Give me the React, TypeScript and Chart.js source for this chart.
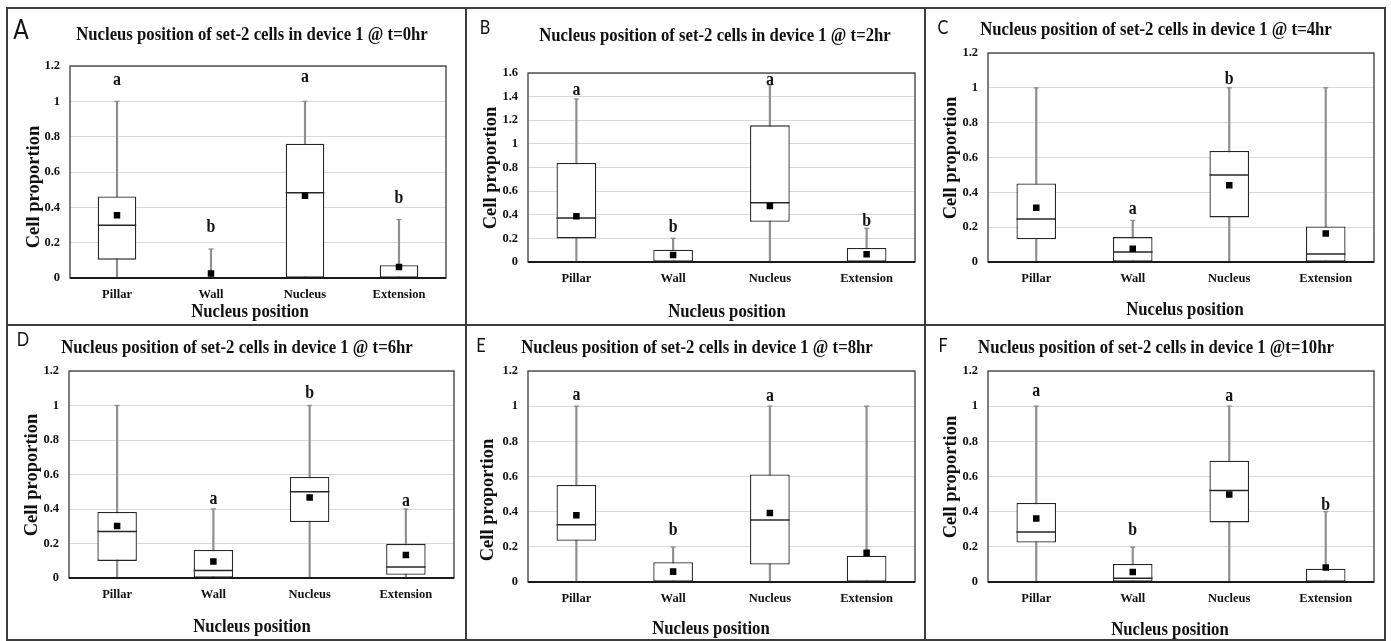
import React, { useEffect, useRef } from "react";
import { Chart, registerables } from "chart.js";

Chart.register(...registerables);

// ---------------- data ----------------
const categories = ["Pillar", "Wall", "Nucleus", "Extension"];
const panelLetters = ["A", "B", "C", "D", "E", "F"];
const panelTitles = [
  "Nucleus position of set-2 cells in device 1 @ t=0hr",
  "Nucleus position of set-2 cells in device 1 @ t=2hr",
  "Nucleus position of set-2 cells in device 1 @ t=4hr",
  "Nucleus position of set-2 cells in device 1 @ t=6hr",
  "Nucleus position of set-2 cells in device 1 @ t=8hr",
  "Nucleus position of set-2 cells in device 1 @t=10hr",
];
const xAxisTitles = [
  "Nucleus position",
  "Nucleus position",
  "Nucelus position",
  "Nucleus position",
  "Nucleus position",
  "Nucleus position",
];
const yAxisTitle = "Cell proportion";
const yMaxValues = [1.2, 1.6, 1.2, 1.2, 1.2, 1.2];
const yStep = 0.2;

const minValues = [
  [0, 0, 0, 0],
  [0, 0, 0, 0],
  [0, 0, 0, 0],
  [0, 0, 0, 0],
  [0, 0, 0, 0],
  [0, 0, 0, 0],
];
const q1Values = [
  [0.104, 0, 0, 0],
  [0.2, 0, 0.341, 0],
  [0.13, 0, 0.256, 0],
  [0.099, 0, 0.325, 0.019],
  [0.234, 0, 0.099, 0],
  [0.224, 0, 0.339, 0],
];
const medianValues = [
  [0.299, 0, 0.482, 0],
  [0.372, 0, 0.502, 0],
  [0.247, 0.057, 0.499, 0.046],
  [0.27, 0.044, 0.5, 0.064],
  [0.325, 0, 0.352, 0],
  [0.285, 0.021, 0.521, 0],
];
const q3Values = [
  [0.461, 0, 0.76, 0.072],
  [0.838, 0.104, 1.157, 0.118],
  [0.451, 0.143, 0.638, 0.204],
  [0.383, 0.162, 0.586, 0.198],
  [0.552, 0.112, 0.612, 0.15],
  [0.449, 0.103, 0.69, 0.076],
];
const maxValues = [
  [1.0, 0.164, 1.0, 0.331],
  [1.38, 0.2, 1.5, 0.285],
  [1.0, 0.239, 1.0, 1.0],
  [1.0, 0.4, 1.0, 0.4],
  [1.0, 0.198, 1.0, 1.0],
  [1.0, 0.198, 1.0, 0.4],
];
const meanValues = [
  [0.355, 0.026, 0.465, 0.062],
  [0.387, 0.059, 0.474, 0.065],
  [0.311, 0.076, 0.44, 0.163],
  [0.302, 0.095, 0.466, 0.133],
  [0.38, 0.059, 0.392, 0.167],
  [0.361, 0.057, 0.498, 0.082],
];
const sigLetters = [
  ["a", "b", "a", "b"],
  ["a", "b", "a", "b"],
  ["", "a", "b", ""],
  ["", "a", "b", "a"],
  ["a", "b", "a", ""],
  ["a", "b", "a", "b"],
];
const sigLetterY = [
  [1.119, 0.289, 1.138, 0.45],
  [1.456, 0.293, 1.535, 0.347],
  [0, 0.304, 1.051, 0],
  [0, 0.458, 1.071, 0.446],
  [1.063, 0.291, 1.054, 0],
  [1.086, 0.291, 1.054, 0.437],
];

// ---------------- layout ----------------
const colX = [7, 466, 925, 1385];
const rowY = [8, 325, 640];
const plotAreas = [
  { l: 70, r: 446, t: 66, b: 278 },
  { l: 528, r: 915, t: 73, b: 262 },
  { l: 988, r: 1374, t: 53, b: 262 },
  { l: 69, r: 454, t: 371, b: 578 },
  { l: 528, r: 915, t: 371, b: 582 },
  { l: 988, r: 1374, t: 371, b: 582 },
];
const titlePos = [
  [252, 33],
  [715, 33.7],
  [1156, 28.3],
  [237, 346],
  [696.5, 346.3],
  [1156, 346.3],
];
const xTitlePos = [
  [250, 310],
  [727, 310.3],
  [1185, 308.3],
  [252, 624.5],
  [710.5, 627.2],
  [1170, 627.8],
];
const yTitlePos = [
  [33, 187],
  [490, 168],
  [950, 158],
  [31, 475],
  [486.5, 499.5],
  [950, 476.7],
];
const letterPos = [
  [21, 28.5],
  [484.5, 27],
  [943, 27.3],
  [23, 339.3],
  [480.7, 345],
  [942.5, 345],
];
const letterSizes = [26, 18.5, 18.5, 18.5, 18.5, 18.5];

const SERIF = '"Liberation Serif", "Times New Roman", serif';
const WHISKER = "#8e8e8e";
const BOXLINE = "#262626";

function makePlugin(i: number) {
  return {
    id: "boxExtras" + i,
    afterDatasetDraw(chart: any, args: any) {
      const ctx = chart.ctx;
      const ys = chart.scales.y;
      if (args.index === 0) {
        const meta = chart.getDatasetMeta(0);
        ctx.save();
        ctx.strokeStyle = WHISKER;
        ctx.lineWidth = 1.3;
        meta.data.forEach((el: any, k: number) => {
          const py = ys.getPixelForValue(maxValues[i][k]);
          ctx.beginPath();
          ctx.moveTo(el.x - 2.5, py);
          ctx.lineTo(el.x + 2.5, py);
          ctx.stroke();
        });
        ctx.restore();
      }
      if (args.index === 1) {
        const meta = chart.getDatasetMeta(1);
        ctx.save();
        ctx.strokeStyle = BOXLINE;
        ctx.lineWidth = 1.5;
        meta.data.forEach((el: any, k: number) => {
          const py = ys.getPixelForValue(medianValues[i][k]);
          const half = el.width / 2;
          ctx.beginPath();
          ctx.moveTo(el.x - half, py);
          ctx.lineTo(el.x + half, py);
          ctx.stroke();
        });
        ctx.restore();
      }
    },
    afterDatasetsDraw(chart: any) {
      const ctx = chart.ctx;
      const { left, top, right, bottom } = chart.chartArea;
      ctx.save();
      ctx.strokeStyle = "#3a3a3a";
      ctx.lineWidth = 1.3;
      ctx.strokeRect(left, top, right - left, bottom - top);
      ctx.strokeStyle = "#1a1a1a";
      ctx.lineWidth = 1.8;
      ctx.beginPath();
      ctx.moveTo(left, bottom);
      ctx.lineTo(right, bottom);
      ctx.stroke();
      // significance letters
      const xs = chart.scales.x;
      const ys = chart.scales.y;
      ctx.fillStyle = "#111";
      ctx.font = `bold 18px ${SERIF}`;
      ctx.textAlign = "center";
      ctx.textBaseline = "middle";
      sigLetters[i].forEach((t, k) => {
        if (!t) return;
        const px = xs.getPixelForValue(k);
        const py = ys.getPixelForValue(sigLetterY[i][k]);
        ctx.save();
        ctx.translate(px, py);
        ctx.scale(0.88, 1);
        ctx.fillText(t, 0, 0);
        ctx.restore();
      });
      ctx.restore();
    },
  };
}

function Panel({ i }: { i: number }) {
  const ref = useRef<HTMLCanvasElement>(null);
  const col = i % 3;
  const row = Math.floor(i / 3);
  const cx0 = colX[col] + 1;
  const cy0 = rowY[row] + 1;
  const w = colX[col + 1] - colX[col] - 2;
  const h = rowY[row + 1] - rowY[row] - 2;

  useEffect(() => {
    const pa = plotAreas[i];
    const tickFont = { family: SERIF, weight: "bold" as const, size: 12.5 };
    const chart = new Chart(ref.current as HTMLCanvasElement, {
      type: "bar",
      data: {
        labels: categories,
        datasets: [
          {
            type: "bar",
            label: "whisker",
            data: categories.map((_, k) => [minValues[i][k], maxValues[i][k]]) as any,
            backgroundColor: WHISKER,
            borderWidth: 0,
            barThickness: 1.5,
            grouped: false,
            order: 3,
          } as any,
          {
            type: "bar",
            label: "box",
            data: categories.map((_, k) => [q1Values[i][k], q3Values[i][k]]) as any,
            backgroundColor: "#ffffff",
            borderColor: BOXLINE,
            borderWidth: 1.3,
            borderSkipped: false,
            grouped: false,
            barPercentage: 0.41,
            categoryPercentage: 1,
            order: 2,
          } as any,
          {
            type: "line",
            label: "mean",
            data: meanValues[i],
            showLine: false,
            pointStyle: "rect",
            pointRadius: 4.6,
            pointHoverRadius: 4.6,
            pointBackgroundColor: "#000",
            pointBorderWidth: 0,
            order: 1,
          } as any,
        ],
      },
      options: {
        responsive: false,
        animation: false,
        events: [],
        layout: {
          padding: { left: 0, top: pa.t - cy0, right: cx0 + w - pa.r, bottom: 0 },
        },
        plugins: {
          legend: { display: false },
          title: { display: false },
          tooltip: { enabled: false },
        },
        scales: {
          x: {
            type: "category",
            grid: { display: false, drawTicks: false },
            border: { display: false },
            ticks: {
              padding: 9,
              color: "#111",
              font: tickFont,
              maxRotation: 0,
              autoSkip: false,
            },
            afterFit: (s: any) => {
              s.height = cy0 + h - pa.b;
            },
          },
          y: {
            min: 0,
            max: yMaxValues[i],
            grid: { color: "#d9d9d9", lineWidth: 1, drawTicks: false },
            border: { display: false },
            ticks: {
              stepSize: yStep,
              padding: 10,
              color: "#111",
              font: tickFont,
              callback: (v: any) => String(Math.round(Number(v) * 10) / 10),
            },
            afterFit: (s: any) => {
              s.width = pa.l - cx0;
            },
          },
        } as any,
      },
      plugins: [makePlugin(i)],
    });
    return () => chart.destroy();
  }, []);

  return (
    <canvas
      ref={ref}
      width={w}
      height={h}
      style={{ position: "absolute", left: cx0, top: cy0, width: w, height: h }}
    />
  );
}

function Txt(props: {
  x: number;
  y: number;
  text: string;
  size: number;
  family: string;
  weight: number | string;
  rotate?: boolean;
  sx?: number;
}) {
  const { x, y, text, size, family, weight, rotate, sx = 1 } = props;
  const tf = rotate
    ? "translate(-50%,-50%) rotate(-90deg)"
    : `translate(-50%,-50%) scaleX(${sx})`;
  return (
    <div
      style={{
        position: "absolute",
        left: x,
        top: y,
        transform: tf,
        whiteSpace: "nowrap",
        fontFamily: family,
        fontWeight: weight as any,
        fontSize: size,
        lineHeight: 1,
        color: "#111",
      }}
    >
      {text}
    </div>
  );
}

export default function App() {
  const lineColor = "#3c3c3c";
  const vLines = colX.map((x) => ({ left: x - 1, top: rowY[0] - 1, width: 2, height: rowY[2] - rowY[0] + 2 }));
  const hLines = rowY.map((y) => ({ left: colX[0] - 1, top: y - 1, width: colX[3] - colX[0] + 2, height: 2 }));
  return (
    <div
      style={{
        position: "absolute",
        left: 0,
        top: 0,
        width: 1391,
        height: 641,
        background: "#fff",
        overflow: "hidden",
      }}
    >
      {panelLetters.map((_, i) => (
        <Panel key={"p" + i} i={i} />
      ))}
      {panelLetters.map((L, i) => (
        <React.Fragment key={"t" + i}>
          <Txt x={titlePos[i][0]} y={titlePos[i][1]} text={panelTitles[i]} size={19} family={SERIF} weight="bold" sx={0.88} />
          <Txt x={xTitlePos[i][0]} y={xTitlePos[i][1]} text={xAxisTitles[i]} size={19} family={SERIF} weight="bold" sx={0.88} />
          <Txt x={yTitlePos[i][0]} y={yTitlePos[i][1]} text={yAxisTitle} size={18.5} family={SERIF} weight="bold" rotate />
          <Txt x={letterPos[i][0]} y={letterPos[i][1]} text={L} size={letterSizes[i]} family="Lato, 'Open Sans', sans-serif" weight={400} sx={0.88} />
        </React.Fragment>
      ))}
      {vLines.map((s, k) => (
        <div key={"v" + k} style={{ position: "absolute", background: lineColor, ...s }} />
      ))}
      {hLines.map((s, k) => (
        <div key={"h" + k} style={{ position: "absolute", background: lineColor, ...s }} />
      ))}
    </div>
  );
}
